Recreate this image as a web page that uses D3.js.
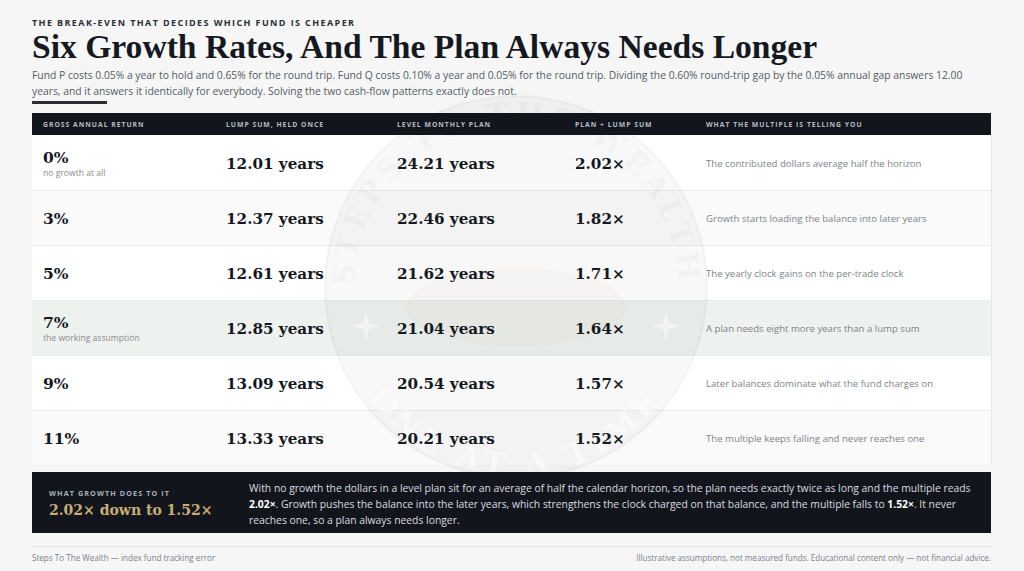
<!DOCTYPE html>
<html>
<head>
<meta charset="utf-8">
<script src="https://cdn.jsdelivr.net/npm/d3@7"></script>
<style>
  html, body { margin: 0; padding: 0; background: #f6f6f6; }
  svg { display: block; }
</style>
</head>
<body>
<div id="vizcontainer"></div>
<script>
const rates = ['0%', '3%', '5%', '7%', '9%', '11%'],
  rateNotes = ['no growth at all', '', '', 'the working assumption', '', ''],
  lumpYears = [12.01, 12.37, 12.61, 12.85, 13.09, 13.33],
  planYears = [24.21, 22.46, 21.62, 21.04, 20.54, 20.21],
  multiples = [2.02, 1.82, 1.71, 1.64, 1.57, 1.52],
  readings = [
    'The contributed dollars average half the horizon',
    'Growth starts loading the balance into later years',
    'The yearly clock gains on the per-trade clock',
    'A plan needs eight more years than a lump sum',
    'Later balances dominate what the fund charges on',
    'The multiple keeps falling and never reaches one'
  ],
  columns = ['GROSS ANNUAL RETURN', 'LUMP SUM, HELD ONCE', 'LEVEL MONTHLY PLAN', 'PLAN \u00F7 LUMP SUM', 'WHAT THE MULTIPLE IS TELLING YOU'],
  highlightRate = '7%';

const
  width = 1024,
  height = 571,
  left = 32,
  right = 991,
  ink = '#14181f',
  serif = '"DejaVu Serif", Georgia, serif',
  titleSerif = '"Liberation Serif", "Times New Roman", serif',
  sans = '"Open Sans", "Noto Sans", sans-serif';

const svg = d3.select('#vizcontainer')
  .append('svg')
  .attr('width', width)
  .attr('height', height);

svg.append('rect').attr('width', width).attr('height', height).attr('fill', '#f6f6f6');

// header
svg.append('text')
  .attr('x', left).attr('y', 26)
  .attr('font-family', sans).attr('font-weight', 700).attr('font-size', 9)
  .attr('letter-spacing', 1.4).attr('fill', '#2a2f36')
  .text('THE BREAK-EVEN THAT DECIDES WHICH FUND IS CHEAPER');

svg.append('text')
  .attr('x', left).attr('y', 58)
  .attr('font-family', titleSerif).attr('font-weight', 700).attr('font-size', 33.6)
  .attr('fill', ink)
  .text('Six Growth Rates, And The Plan Always Needs Longer');

const subLines = [
  'Fund P costs 0.05% a year to hold and 0.65% for the round trip. Fund Q costs 0.10% a year and 0.05% for the round trip. Dividing the 0.60% round-trip gap by the 0.05% annual gap answers 12.00',
  'years, and it answers it identically for everybody. Solving the two cash-flow patterns exactly does not.'
];
svg.append('g').selectAll('text')
  .data(subLines)
  .join('text')
  .attr('x', left).attr('y', (d, i) => 79 + i * 15.5)
  .attr('font-family', sans).attr('font-size', 10.33).attr('fill', '#555b62')
  .text(d => d);

svg.append('rect').attr('x', left).attr('y', 101).attr('width', 75).attr('height', 3).attr('fill', '#2a2f36');

// table
const y = d3.scaleBand().domain(rates).range([135, 465]);
const x = d3.scaleOrdinal().domain(columns).range([43, 226, 397, 575, 706]);

const rows = svg.append('g');
rows.selectAll('rect')
  .data(rates)
  .join('rect')
  .attr('x', left).attr('width', right - left)
  .attr('y', d => y(d)).attr('height', y.bandwidth())
  .attr('fill', (d, i) => d === highlightRate ? '#eef2ee' : (i % 2 ? '#fafafa' : '#ffffff'));
rows.selectAll('line')
  .data(rates.slice(1))
  .join('line')
  .attr('x1', left).attr('x2', right)
  .attr('y1', d => y(d) + 0.5).attr('y2', d => y(d) + 0.5)
  .attr('stroke', '#ececec');
rows.append('line')
  .attr('x1', right + 0.5).attr('x2', right + 0.5).attr('y1', 135).attr('y2', 465)
  .attr('stroke', '#e6e6e6');

// watermark seal
const wm = svg.append('g').attr('transform', 'translate(516,287)');
wm.append('circle').attr('r', 191).attr('fill', 'rgba(60,70,60,0.035)').attr('stroke', 'rgba(60,70,60,0.05)').attr('stroke-width', 2);
wm.append('path').attr('id', 'arcTop').attr('fill', 'none')
  .attr('d', 'M -150 60 A 162 162 0 1 1 150 60');
wm.append('text')
  .attr('font-family', serif).attr('font-weight', 700).attr('font-size', 30).attr('letter-spacing', 5)
  .attr('fill', 'rgba(60,70,60,0.055)')
  .append('textPath').attr('href', '#arcTop').attr('startOffset', '50%').attr('text-anchor', 'middle')
  .text('STEPS TO THE WEALTH');
wm.append('path').attr('id', 'arcBot').attr('fill', 'none')
  .attr('d', 'M -178 10 A 178 178 0 0 0 178 10');
wm.append('text')
  .attr('font-family', serif).attr('font-weight', 700).attr('font-size', 30).attr('letter-spacing', 6)
  .attr('fill', 'rgba(255,255,255,0.5)')
  .append('textPath').attr('href', '#arcBot').attr('startOffset', '50%').attr('text-anchor', 'middle')
  .text('ONE AT A TIME');
wm.append('ellipse').attr('cx', 0).attr('cy', 20).attr('rx', 110).attr('ry', 40).attr('fill', 'rgba(200,170,130,0.05)');
[-150, 150].forEach(cx => {
  wm.append('path')
    .attr('d', `M${cx},24 l3,12 l12,3 l-12,3 l-3,12 l-3,-12 l-12,-3 l12,-3 z`)
    .attr('fill', 'rgba(255,255,255,0.45)');
});

// header band
svg.append('rect').attr('x', left).attr('y', 113).attr('width', right - left).attr('height', 22).attr('fill', '#12161c');
svg.append('g').selectAll('text')
  .data(columns)
  .join('text')
  .attr('x', d => x(d)).attr('y', 127)
  .attr('font-family', sans).attr('font-weight', 700).attr('font-size', 6.8)
  .attr('letter-spacing', 1).attr('fill', '#b4bcc4')
  .text(d => d);

const cells = svg.append('g').selectAll('g')
  .data(rates)
  .join('g')
  .attr('transform', d => `translate(0,${y(d) + y.bandwidth() / 2})`);

cells.append('text')
  .attr('x', x(columns[0]))
  .attr('y', (d, i) => rateNotes[i] ? 0 : 6)
  .attr('font-family', serif).attr('font-weight', 700).attr('font-size', 15.5).attr('fill', ink)
  .text(d => d);
cells.append('text')
  .attr('x', x(columns[0])).attr('y', 13)
  .attr('font-family', sans).attr('font-size', 8.6).attr('fill', '#8c8c8c')
  .text((d, i) => rateNotes[i]);
cells.append('text')
  .attr('x', x(columns[1])).attr('y', 6)
  .attr('font-family', serif).attr('font-weight', 700).attr('font-size', 15.2).attr('fill', ink)
  .text((d, i) => d3.format('.2f')(lumpYears[i]) + ' years');
cells.append('text')
  .attr('x', x(columns[2])).attr('y', 6)
  .attr('font-family', serif).attr('font-weight', 700).attr('font-size', 15.2).attr('fill', ink)
  .text((d, i) => d3.format('.2f')(planYears[i]) + ' years');
cells.append('text')
  .attr('x', x(columns[3])).attr('y', 6)
  .attr('font-family', serif).attr('font-weight', 700).attr('font-size', 15.2).attr('fill', ink)
  .text((d, i) => d3.format('.2f')(multiples[i]) + '\u00D7');
cells.append('text')
  .attr('x', x(columns[4])).attr('y', 4)
  .attr('font-family', sans).attr('font-size', 9.6).attr('fill', '#808488')
  .text((d, i) => readings[i]);

// takeaway box
const first = multiples[0], last = multiples[multiples.length - 1];
svg.append('rect').attr('x', left).attr('y', 472).attr('width', right - left).attr('height', 61).attr('fill', '#12161c');
svg.append('text')
  .attr('x', 49).attr('y', 496)
  .attr('font-family', sans).attr('font-weight', 700).attr('font-size', 7.2)
  .attr('letter-spacing', 1.1).attr('fill', '#a6b0ba')
  .text('WHAT GROWTH DOES TO IT');
svg.append('text')
  .attr('x', 49).attr('y', 515)
  .attr('font-family', serif).attr('font-weight', 700).attr('font-size', 14)
  .attr('fill', '#c9ad76')
  .text(`${first.toFixed(2)}\u00D7 down to ${last.toFixed(2)}\u00D7`);

const bodyLines = [
  [['With no growth the dollars in a level plan sit for an average of half the calendar horizon, so the plan needs exactly twice as long and the multiple reads', false]],
  [[first.toFixed(2) + '\u00D7', true], ['. Growth pushes the balance into the later years, which strengthens the clock charged on that balance, and the multiple falls to ', false], [last.toFixed(2) + '\u00D7', true], ['. It never', false]],
  [['reaches one, so a plan always needs longer.', false]]
];
const body = svg.append('g');
bodyLines.forEach((parts, i) => {
  const t = body.append('text')
    .attr('x', 249).attr('y', 492 + i * 16)
    .attr('font-family', sans).attr('font-size', 10.35).attr('fill', '#d9dde1');
  parts.forEach(([s, b]) => {
    t.append('tspan').attr('font-weight', b ? 700 : 400).attr('fill', b ? '#ffffff' : '#d9dde1').text(s);
  });
});

// footer
svg.append('line').attr('x1', left).attr('x2', right).attr('y1', 546.5).attr('y2', 546.5).attr('stroke', '#e2e2e2');
svg.append('text')
  .attr('x', left).attr('y', 561)
  .attr('font-family', sans).attr('font-size', 8.1).attr('fill', '#7d8186')
  .text('Steps To The Wealth \u2014 index fund tracking error');
svg.append('text')
  .attr('x', right).attr('y', 561).attr('text-anchor', 'end')
  .attr('font-family', sans).attr('font-size', 8.1).attr('fill', '#7d8186')
  .text('Illustrative assumptions, not measured funds. Educational content only \u2014 not financial advice.');
</script>
</body>
</html>
